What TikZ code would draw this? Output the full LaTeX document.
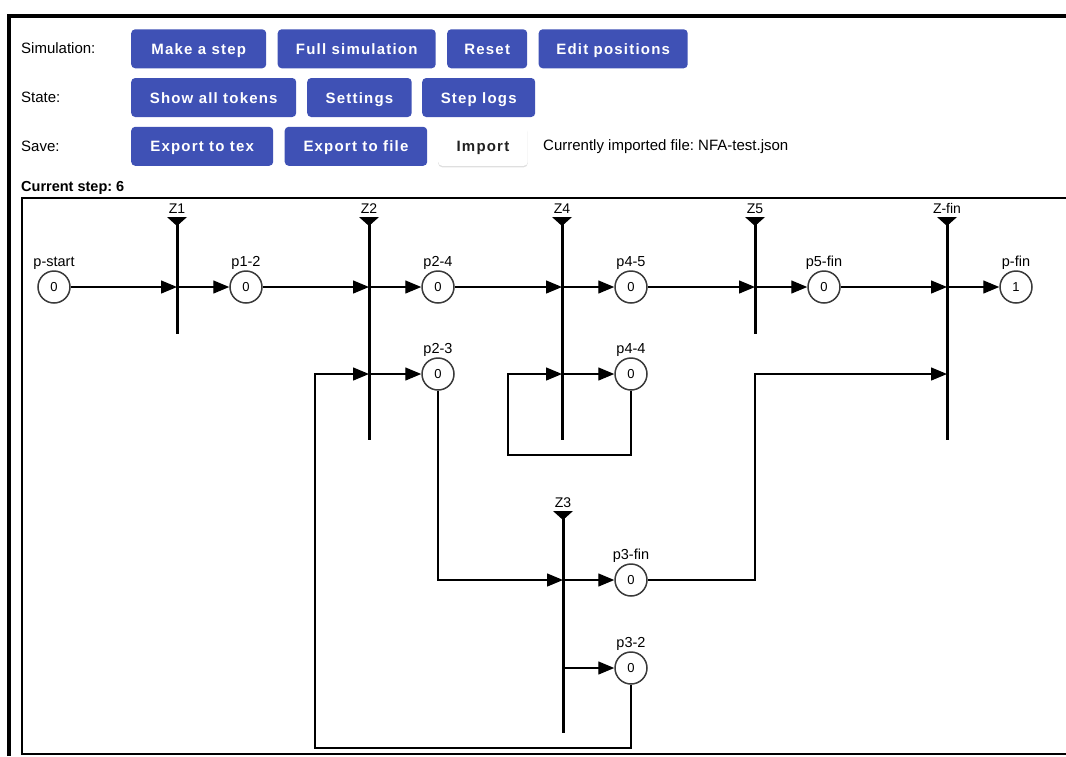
\documentclass[tikz,border=0pt]{standalone}
\usepackage{fontspec}
\setmainfont{Liberation Sans}
\usetikzlibrary{arrows.meta, shadows}
\definecolor{btn-blue}{HTML}{3F51B5}
\definecolor{place-edge}{HTML}{3A3A3A}
\definecolor{dark-text}{HTML}{212121}
\frenchspacing

\begin{document}
\begin{tikzpicture}[x=1pt, y=-1pt,
        every node/.style={font=\fontsize{14}{16}\selectfont},
        btn/.style={rounded corners=4pt, fill=btn-blue, text=white, anchor=west,
            minimum height=39pt, inner xsep=2pt, text height=11pt, text depth=0pt,
            font=\fontsize{15}{18}\selectfont\bfseries\addfontfeature{LetterSpace=8}},
        btnwhite/.style={btn, fill=white, text=dark-text,
            drop shadow={opacity=0.25, shadow xshift=0pt, shadow yshift=-1.5pt}},
        rowlbl/.style={anchor=west, inner sep=0pt, font=\fontsize{15}{18}\selectfont},
        place/.style={circle, draw=place-edge, line width=1.5pt, minimum size=32pt,
            inner sep=0pt, fill=white, font=\fontsize{13}{14}\selectfont},
        plbl/.style={inner sep=1pt, font=\fontsize{14.5}{16}\selectfont},
        tlbl/.style={anchor=base, inner sep=0pt, font=\fontsize{14}{16}\selectfont},
        trans/.style={fill=black, inner sep=0pt, minimum width=3pt},
        arc/.style={-{Triangle[length=16pt, width=13pt]}, line width=1.4pt},
        wire/.style={line width=1.4pt}]
  \useasboundingbox (0,0) rectangle (1066,756);

  % outer frame and canvas
  \draw[line width=4pt] (9,756) -- (9,16) -- (1070,16);
  \draw[line width=2pt] (1070,198) -- (22,198) -- (22,754) -- (1070,754);

  % toolbar
  \node[rowlbl] (lsim) at (21,48.5) {Simulation:};
  \node[rowlbl] (lstate) at (21,97.5) {State:};
  \node[rowlbl] (lsave) at (21,146.5) {Save:};

  \node[btn, minimum width=135pt] (mkstep) at (131,48.8) {Make a step};
  \node[btn, minimum width=158pt] (fullsim) at (277.5,48.8) {Full simulation};
  \node[btn, minimum width=80pt] (reset) at (447,48.8) {Reset};
  \node[btn, minimum width=149pt] (editpos) at (538.5,48.8) {Edit positions};

  \node[btn, minimum width=165pt] (tokens) at (131,97.5) {Show all tokens};
  \node[btn, minimum width=104.5pt] (settings) at (307,97.5) {Settings};
  \node[btn, minimum width=113pt] (logs) at (422,97.5) {Step logs};

  \node[btn, minimum width=142pt] (extex) at (131,146.3) {Export to tex};
  \node[btn, minimum width=142.5pt] (exfile) at (284.5,146.3) {Export to file};
  \node[btnwhite, minimum width=89.5pt] (import) at (438,146.3) {Import};
  \node[rowlbl] (curfile) at (543,146.5) {Currently imported file: NFA-test.json};

  \node[anchor=base west, inner sep=0pt, font=\fontsize{14.5}{16}\selectfont\bfseries]
       (curstep) at (21,191) {Current step: 6};

  % transitions
  \foreach \nm/\txt/\x/\ya/\yb in {Z1/Z1/177/218/334, Z2/Z2/369/218/440,
      Z4/Z4/562/218/440, Z5/Z5/755/218/334, Zfin/Z-fin/947/218/440, Z3/Z3/563/512/733} {
    \node[trans, minimum height={\yb-\ya}] (\nm) at (\x,{(\ya+\yb)/2}) {};
    \fill ({\x-10},{\ya-1}) -- ({\x+10},{\ya-1}) -- (\x,{\ya+8}) -- cycle;
    \node[tlbl] at (\x,{\ya-5}) {\txt};
  }

  % places
  \node[place, label={[plbl]above:p-start}] (pstart) at (54,287) {0};
  \node[place, label={[plbl]above:p1-2}] (p12) at (246,287) {0};
  \node[place, label={[plbl]above:p2-4}] (p24) at (438,287) {0};
  \node[place, label={[plbl]above:p4-5}] (p45) at (631,287) {0};
  \node[place, label={[plbl]above:p5-fin}] (p5fin) at (824,287) {0};
  \node[place, label={[plbl]above:p-fin}] (pfin) at (1016,287) {1};
  \node[place, label={[plbl]above:p2-3}] (p23) at (438,374) {0};
  \node[place, label={[plbl]above:p4-4}] (p44) at (631,374) {0};
  \node[place, label={[plbl]above:p3-fin}] (p3fin) at (631,580) {0};
  \node[place, label={[plbl]above:p3-2}] (p32) at (631,668) {0};

  % bends of the back arcs
  \coordinate (b44) at (508,455);
  \coordinate (b3fin) at (755,374);
  \coordinate (b32) at (315,748);

  % arcs
  \draw[arc] (pstart) -- (pstart -| Z1);
  \draw[arc] (pstart -| Z1) -- (p12);
  \draw[arc] (p12) -- (p12 -| Z2);
  \draw[arc] (p12 -| Z2) -- (p24);
  \draw[arc] (p23 -| Z2) -- (p23);
  \draw[arc] (p24) -- (p24 -| Z4);
  \draw[arc] (p24 -| Z4) -- (p45);
  \draw[arc] (p44 -| Z4) -- (p44);
  \draw[arc] (p45) -- (p45 -| Z5);
  \draw[arc] (p45 -| Z5) -- (p5fin);
  \draw[arc] (p5fin) -- (p5fin -| Zfin);
  \draw[arc] (p5fin -| Zfin) -- (pfin);
  \draw[arc] (p44.south) |- (b44) |- (p44 -| Z4);
  \draw[arc] (p23.south) |- (p3fin -| Z3);
  \draw[arc] (p3fin -| Z3) -- (p3fin);
  \draw[arc] (p32 -| Z3) -- (p32);
  \draw[arc] (p3fin) -| (b3fin) -- (b3fin -| Zfin);
  \draw[arc] (p32.south) |- (b32) |- (p23 -| Z2);
\end{tikzpicture}
\end{document}
